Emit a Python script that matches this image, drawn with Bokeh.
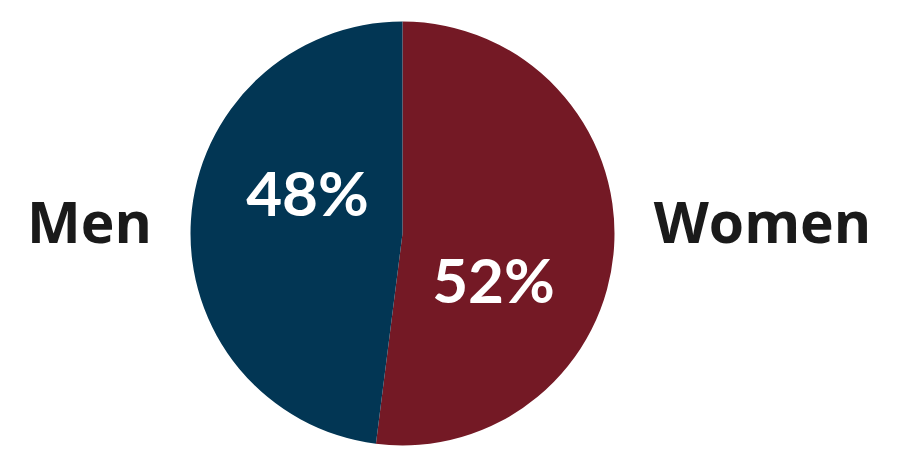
import math
from bokeh.plotting import figure
from bokeh.models import ColumnDataSource, Range1d
from bokeh.core.properties import value
from bokeh.embed import file_html
from bokeh.resources import INLINE

categories = ["Women", "Men"]
shares = [52, 48]
pct_labels = ["52%", "48%"]
colors = ["#741925", "#023654"]

W, H = 904, 458
p = figure(width=W, height=H, output_backend="svg", toolbar_location=None,
           x_range=Range1d(0, W), y_range=Range1d(0, H), min_border=0,
           background_fill_color="white", border_fill_color="white")
p.axis.visible = False
p.grid.visible = False
p.outline_line_color = None

cx, cy, r = 402, 225, 212
total = sum(shares)
top = math.pi / 2
w_span = shares[0] / total * 2 * math.pi
m_span = shares[1] / total * 2 * math.pi
starts = [top - w_span, top]
ends = [top, top + m_span]

src = ColumnDataSource(dict(cat=categories, start=starts, end=ends, color=colors))
p.wedge(x=cx, y=cy, radius=r, start_angle="start", end_angle="end",
        fill_color="color", line_color=None, source=src)

# percentage labels
p.text(x=[493, 307], y=[180, 267], text=pct_labels, text_color="white",
       text_font=value("Lato"), text_font_style="bold", text_font_size="62px",
       text_align="center", text_baseline="alphabetic")

# category labels
p.text(x=[762, 89], y=[238, 238], text=categories, text_color="#1a1a1a",
       text_font=value("Open Sans"), text_font_style="bold", text_font_size="57px",
       text_align="center", text_baseline="alphabetic")

open("out.html", "w").write(file_html(p, INLINE))
